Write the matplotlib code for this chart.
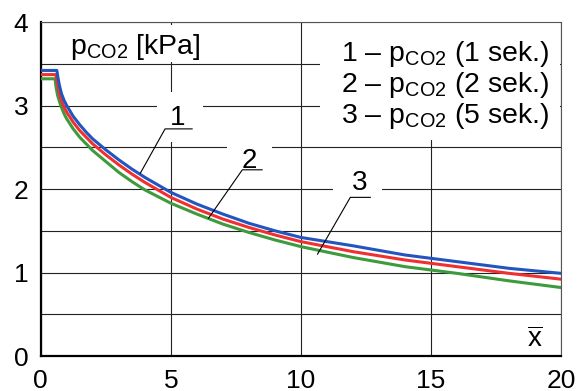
import matplotlib
matplotlib.use("Agg")
import matplotlib.pyplot as plt
from matplotlib.patches import Rectangle

plt.rcParams['font.family'] = ['Liberation Sans', 'DejaVu Sans']
plt.rcParams['mathtext.fontset'] = 'custom'
plt.rcParams['mathtext.rm'] = 'Liberation Sans'
plt.rcParams['mathtext.it'] = 'Liberation Sans'

# krzywe
x1 = [0, 0.62, 0.66, 0.72, 0.8, 0.9, 1.0, 1.25, 1.5, 1.75, 2, 2.5, 3, 3.5, 4, 5, 6, 7, 8, 9, 10, 12, 14, 16, 18, 20]
y1 = [3.42, 3.42, 3.34, 3.24, 3.14, 3.06, 3.00, 2.87, 2.77, 2.68, 2.60, 2.47, 2.35, 2.24, 2.14, 1.96, 1.82,
      1.70, 1.59, 1.50, 1.42, 1.32, 1.21, 1.13, 1.05, 0.99]

x2 = [0, 0.58, 0.62, 0.68, 0.75, 0.87, 1.0, 1.25, 1.5, 1.75, 2, 2.5, 3, 3.5, 4, 5, 6, 7, 8, 9, 10, 12, 14, 16, 18, 20]
y2 = [3.37, 3.37, 3.30, 3.20, 3.10, 3.00, 2.92, 2.80, 2.70, 2.62, 2.54, 2.41, 2.29, 2.18, 2.08, 1.90, 1.76,
      1.64, 1.54, 1.45, 1.37, 1.25, 1.15, 1.07, 0.99, 0.92]

x3 = [0, 0.55, 0.59, 0.65, 0.77, 0.9, 1.0, 1.25, 1.5, 1.75, 2, 2.5, 3, 3.5, 4, 5, 6, 7, 8, 9, 10, 12, 14, 16, 18, 20]
y3 = [3.32, 3.32, 3.22, 3.12, 3.00, 2.90, 2.84, 2.72, 2.62, 2.54, 2.46, 2.33, 2.20, 2.09, 1.99, 1.83, 1.70,
      1.58, 1.48, 1.39, 1.31, 1.18, 1.07, 0.99, 0.90, 0.82]

legend_lines = ["1 – p$_{\\mathrm{CO2}}$ (1 sek.)",
                "2 – p$_{\\mathrm{CO2}}$ (2 sek.)",
                "3 – p$_{\\mathrm{CO2}}$ (5 sek.)"]

fig = plt.figure(figsize=(5.79, 3.91), dpi=100)
ax = fig.add_axes([0.0703, 0.0895, 0.8987, 0.8542])

ax.set_xlim(0, 20)
ax.set_ylim(0, 4)
ax.set_xticks([0, 5, 10, 15, 20])
ax.set_yticks([0, 1, 2, 3, 4])
ax.set_yticks([0.5, 1.5, 2.5, 3.5], minor=True)
ax.tick_params(which='both', length=0, labelsize=19, pad=9)
ax.grid(True, which='both', color='#222222', lw=0.8)
ax.set_axisbelow(True)

for s in ['left', 'bottom']:
    ax.spines[s].set_linewidth(1.6)
for s in ['top', 'right']:
    ax.spines[s].set_linewidth(0.8)
    ax.spines[s].set_color('#555555')

# biale tla pod opisami
for (x0, y0, w, h) in [(0.7, 3.52, 5.8, 0.45), (4.48, 2.56, 1.77, 0.6),
                       (7.17, 2.28, 1.73, 0.4), (11.25, 1.93, 1.85, 0.4),
                       (10.75, 2.59, 9.2, 1.4)]:
    ax.add_patch(Rectangle((x0, y0), w, h, fc='white', ec='none', zorder=1))

ax.plot(x3, y3, color='#3d9a3d', lw=2.2, zorder=3)
ax.plot(x2, y2, color='#f03030', lw=2.2, zorder=3)
ax.plot(x1, y1, color='#2255c0', lw=2.2, zorder=3)

ax.text(1.12, 3.62, "p$_{\\mathrm{CO2}}$ [kPa]", fontsize=20.5, zorder=4)
for i, t in enumerate(legend_lines):
    ax.text(11.55, 3.53 - i * 0.37, t, fontsize=20.5, zorder=4)

# odnosniki krzywych
for lab, tx, ty, ux0, ux1, uy, ex, ey in [("1", 5.28, 2.77, 4.78, 5.82, 2.72, 3.83, 2.19),
                                           ("2", 8.03, 2.25, 7.75, 8.51, 2.23, 6.45, 1.65),
                                           ("3", 12.26, 1.99, 11.9, 12.67, 1.90, 10.64, 1.22)]:
    ax.text(tx, ty, lab, fontsize=20, ha='center', va='baseline', zorder=4)
    ax.plot([ex, ux0, ux1], [ey, uy, uy], color='black', lw=0.8, zorder=4)

ax.text(19.0, 0.11, "$\\overline{\\mathrm{x}}$", fontsize=20, ha='center', va='baseline', zorder=4)

fig.savefig("out.png", dpi=100)
